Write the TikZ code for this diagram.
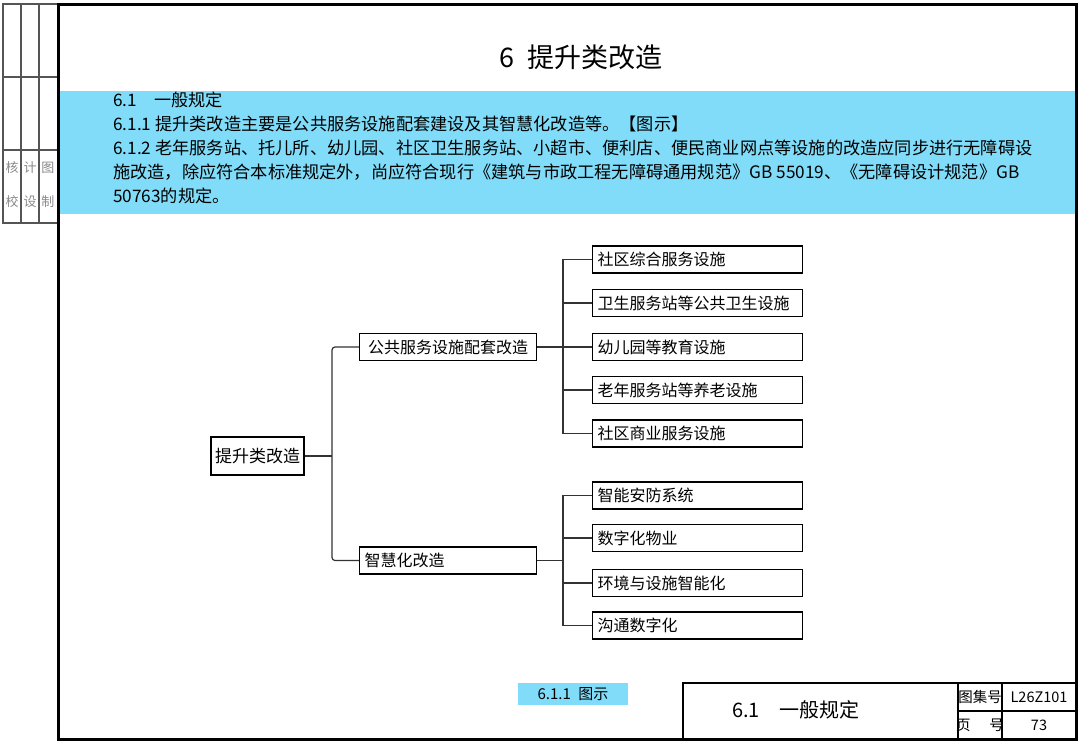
\documentclass[tikz,border=0pt]{standalone}
\usepackage{fontspec}
\setmainfont{Noto Sans CJK SC}
\usepackage{xcolor}
\definecolor{band}{HTML}{80DCF8}
\definecolor{wire}{HTML}{333333}
\definecolor{strip}{HTML}{555555}
\definecolor{faint}{HTML}{8A8A8A}

\begin{document}
\begin{tikzpicture}[x=1pt,y=-1pt,
  box/.style={draw, line width=1.2pt, inner xsep=4pt, inner ysep=0pt, minimum height=27pt, font=\fontsize{16}{16}\selectfont},
  leaf/.style={box, anchor=west, text width=200pt, align=left, inner xsep=5pt},
  wire/.style={draw=wire, line width=1.2pt},
  bandline/.style={anchor=base west, inner sep=0pt, font=\fontsize{17.2}{17.2}\selectfont},
  tbtext/.style={font=\fontsize{14.5}{14.5}\selectfont, inner sep=0pt}]
\useasboundingbox (0,0) rectangle (1080,744);
\fill[white] (0,0) rectangle (1080,744);

% heading and text band
\node[font=\fontsize{27}{27}\selectfont] (title) at (581,57) {6\hspace{0.5em}提升类改造};
\fill[band] (58,91) rectangle (1076,214);
\node[bandline] (line1) at (113,106.5) {6.1\hspace{1em}一般规定};
\node[bandline] (line2) at (113,130.5) {6.1.1 提升类改造主要是公共服务设施配套建设及其智慧化改造等。【图示】};
\node[bandline] (line3) at (113,154.5) {6.1.2 老年服务站、托儿所、幼儿园、社区卫生服务站、小超市、便利店、便民商业网点等设施的改造应同步进行无障碍设};
\node[bandline] (line4) at (113,178.5) {施改造，除应符合本标准规定外，尚应符合现行《建筑与市政工程无障碍通用规范》GB 55019、《无障碍设计规范》GB};
\node[bandline] (line5) at (113,202.5) {50763的规定。};

% tree
\node[box, minimum height=38pt, font=\fontsize{17}{17}\selectfont] (root) at (257.5,456) {提升类改造};
\node[box, anchor=west, minimum width=177pt] (pub) at (359,347) {公共服务设施配套改造};
\node[box, anchor=west, text width=167pt, align=left, inner xsep=5pt] (smart) at (359,560.5) {智慧化改造};
\foreach \y/\t [count=\i] in {259.5/社区综合服务设施, 303/卫生服务站等公共卫生设施, 347/幼儿园等教育设施, 390/老年服务站等养老设施, 433.5/社区商业服务设施}
  \node[leaf] (p\i) at (592,\y) {\t};
\foreach \y/\t [count=\i] in {495.5/智能安防系统, 538/数字化物业, 583/环境与设施智能化, 625.5/沟通数字化}
  \node[leaf] (s\i) at (592,\y) {\t};

\coordinate (rj) at (332,456);
\coordinate (pj) at (563,347);
\coordinate (sj) at (563,560.5);
\draw[wire] (root.east) -- (rj);
\draw[wire, rounded corners=3pt] (pub.west) -| (rj) |- (smart.west);
\draw[wire] (pub.east) -- (pj);
\foreach \i in {1,...,5} \draw[wire] (pj) |- (p\i.west);
\draw[wire] (smart.east) -- (sj);
\foreach \i in {1,...,4} \draw[wire] (sj) |- (s\i.west);

\node[fill=band, minimum width=110pt, minimum height=22pt, inner sep=0pt, font=\fontsize{15}{15}\selectfont] (cap) at (573,694) {6.1.1\hspace{0.5em}图示};

% title block
\draw[line width=1.5pt] (683,683) rectangle (1076,739);
\draw[line width=1.2pt] (958,683) -- (958,739) (1002,683) -- (1002,739) (958,711) -- (1076,711);
\node[font=\fontsize{20}{20}\selectfont] (sheet) at (796,710) {6.1\hspace{1em}一般规定};
\node[tbtext] (setlbl) at (980,697) {图集号};
\node[tbtext] (setno) at (1039,697) {L26Z101};
\node[tbtext] (pagelbl) at (980,725) {页\hspace{1.3em}号};
\node[tbtext] (pageno) at (1039,725) {73};

% signature strip
\draw[strip, line width=1.2pt] (3,4) rectangle (58,223) (21,4) -- (21,223) (39,4) -- (39,223) (3,77) -- (58,77) (3,150) -- (58,150);
\foreach \x/\a/\b [count=\i] in {12/校/核, 30/设/计, 48/制/图} {
  \node[text=faint, font=\fontsize{13}{13}\selectfont, inner sep=0pt] (roleb\i) at (\x,168) {\b};
  \node[text=faint, font=\fontsize{13}{13}\selectfont, inner sep=0pt] (rolea\i) at (\x,202) {\a};
}

% frame
\draw[line width=3pt] (58,4) rectangle (1076,739);
\end{tikzpicture}
\end{document}
